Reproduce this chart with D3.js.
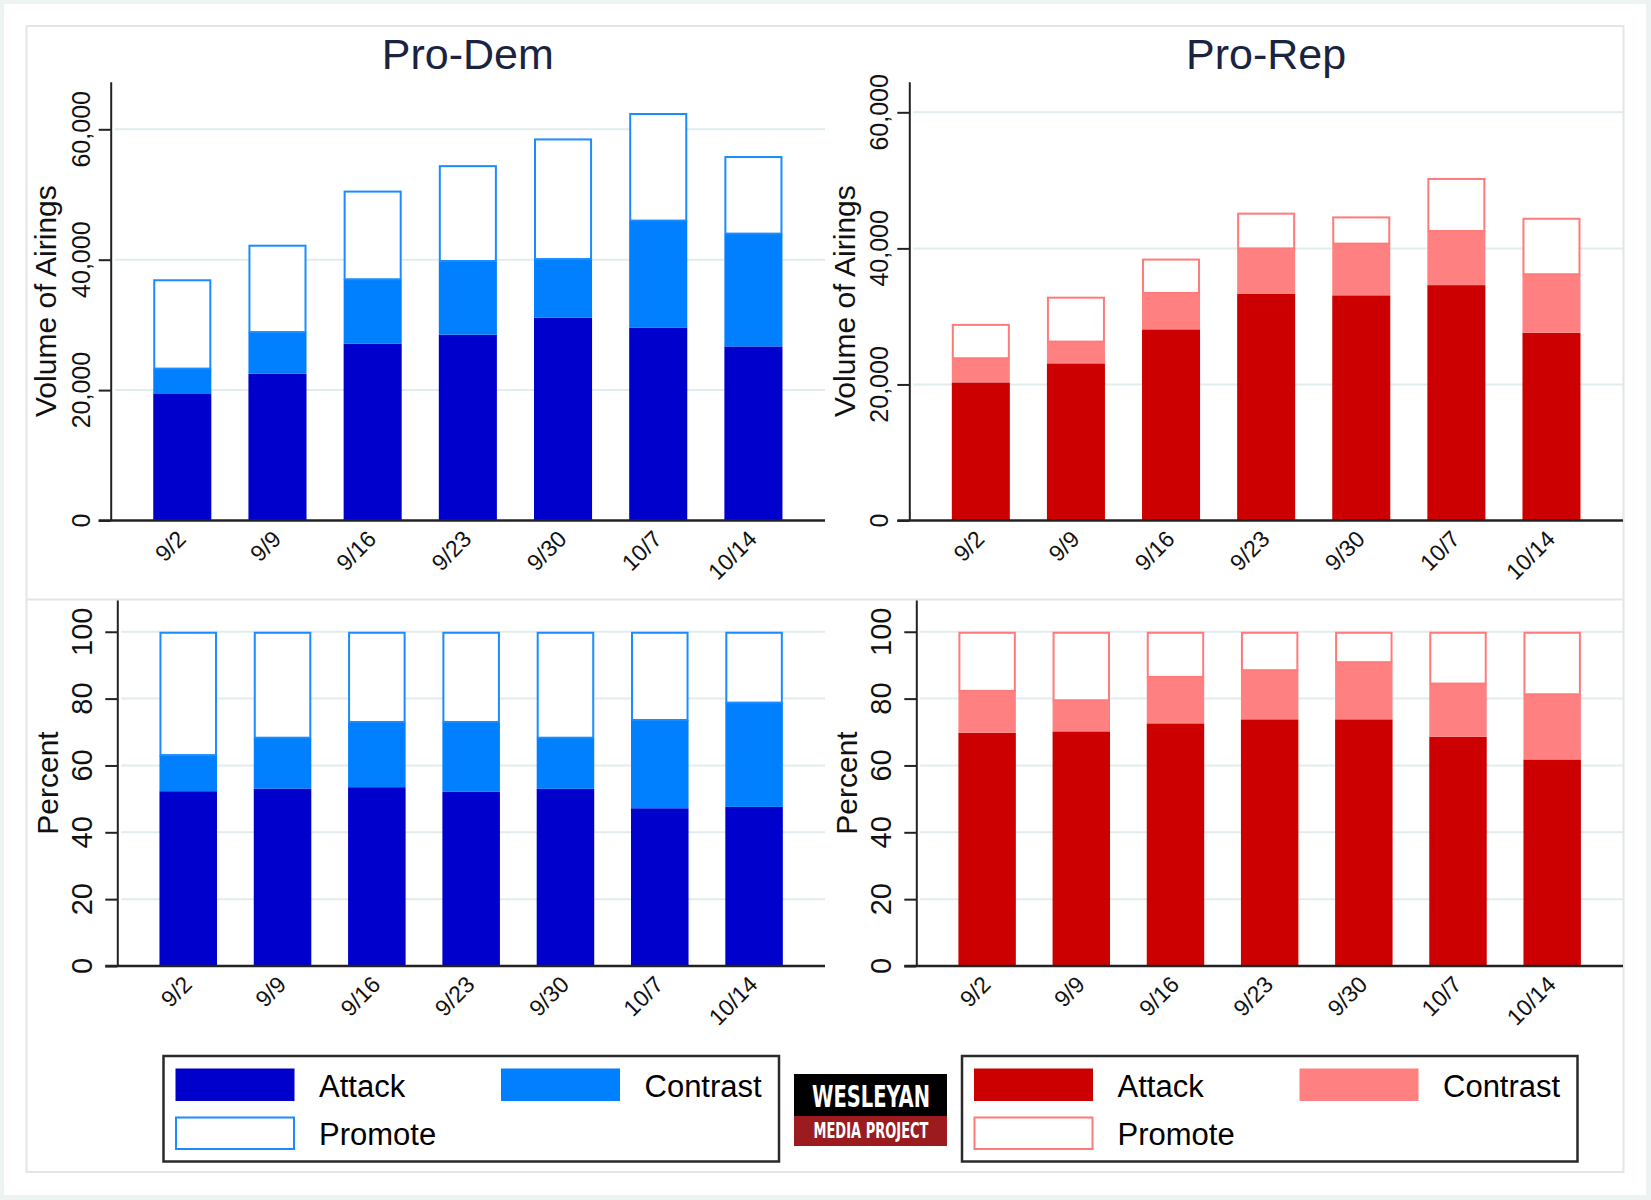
<!DOCTYPE html>
<html>
<head>
<meta charset="utf-8">
<script src="https://cdn.jsdelivr.net/npm/d3@7"></script>
<style>
  html, body { margin: 0; padding: 0; background: #edf2f3; }
  svg { display: block; font-family: "Liberation Sans", Arial, sans-serif; }
</style>
</head>
<body>
<svg id="chart" width="1651" height="1200"></svg>
<script>
// ---------------- data ----------------
const weeks = ["9/2", "9/9", "9/16", "9/23", "9/30", "10/7", "10/14"];
const seriesKeys = ["Attack", "Contrast", "Promote"];

// Volume of airings (segment sizes)
const demAttack   = [19400, 22500, 27100, 28500, 31100, 29600, 26700];
const demContrast = [3900, 6400, 9900, 11300, 9000, 16400, 17300];
const demPromote  = [13700, 13400, 13600, 14700, 18500, 16500, 11900];

const repAttack   = [20300, 23100, 28100, 33350, 33100, 34600, 27600];
const repContrast = [3550, 3200, 5350, 6650, 7600, 7950, 8600];
const repPromote  = [5050, 6600, 5050, 5250, 4000, 7800, 8300];

// Percent of airings (segment sizes)
const demAttackPct   = [52.3, 53.1, 53.5, 52.2, 53.0, 47.2, 47.6];
const demContrastPct = [10.8, 15.2, 19.5, 20.8, 15.3, 26.4, 31.2];
const demPromotePct  = [36.9, 31.7, 27.0, 27.0, 31.7, 26.4, 21.2];

const repAttackPct   = [69.8, 70.2, 72.6, 73.8, 73.8, 68.6, 61.8];
const repContrastPct = [12.5, 9.3, 13.9, 14.7, 17.1, 15.9, 19.5];
const repPromotePct  = [17.7, 20.5, 13.5, 11.5, 9.1, 15.5, 18.7];

const volumeTicks  = [0, 20000, 40000, 60000];
const percentTicks = [0, 20, 40, 60, 80, 100];

const panelTitles = ["Pro-Dem", "Pro-Rep"];

// ---------------- helpers ----------------
function rows(a, c, p) {
  return weeks.map((w, i) => ({ week: w, Attack: a[i], Contrast: c[i], Promote: p[i] }));
}

const blue = { Attack: "#0000cc", Contrast: "#0080ff", Promote: "#ffffff", edge: "#1a8cff" };
const red  = { Attack: "#cc0000", Contrast: "#ff8080", Promote: "#ffffff", edge: "#ff7a7a" };

const svg = d3.select("#chart");

// page frame
svg.append("rect").attr("x", 0).attr("y", 0).attr("width", 1651).attr("height", 1200).attr("fill", "#edf2f3");
svg.append("rect").attr("x", 4).attr("y", 4).attr("width", 1642).attr("height", 1191).attr("fill", "#ffffff");
svg.append("rect").attr("x", 26.5).attr("y", 26).attr("width", 1597).attr("height", 1146)
  .attr("fill", "#ffffff").attr("stroke", "#e3e6e7").attr("stroke-width", 2);
svg.append("line").attr("x1", 27).attr("x2", 1623).attr("y1", 599.5).attr("y2", 599.5)
  .attr("stroke", "#e3e6e7").attr("stroke-width", 2);

const panels = [
  { data: rows(demAttack, demContrast, demPromote), col: blue, ax: 110.7, x1: 825, top: 81.7, base: 520.5,
    max: 67300, ticks: volumeTicks, fmt: d3.format(","), tickFont: 25, tickOff: 21,
    label: "Volume of Airings", labOff: 54.5, title: panelTitles[0] },
  { data: rows(repAttack, repContrast, repPromote), col: red, ax: 909.3, x1: 1623, top: 81.7, base: 520.5,
    max: 64500, ticks: volumeTicks, fmt: d3.format(","), tickFont: 25, tickOff: 21,
    label: "Volume of Airings", labOff: 54.5, title: panelTitles[1] },
  { data: rows(demAttackPct, demContrastPct, demPromotePct), col: blue, ax: 117.3, x1: 825, top: 600, base: 966,
    max: 109.5, ticks: percentTicks, fmt: d3.format("d"), tickFont: 29, tickOff: 25,
    label: "Percent", labOff: 59, title: null },
  { data: rows(repAttackPct, repContrastPct, repPromotePct), col: red, ax: 916.3, x1: 1623, top: 600, base: 966,
    max: 109.5, ticks: percentTicks, fmt: d3.format("d"), tickFont: 29, tickOff: 25,
    label: "Percent", labOff: 59, title: null }
];

const stack = d3.stack().keys(seriesKeys);

panels.forEach(p => {
  const g = svg.append("g");
  const x = d3.scaleBand().domain(weeks).range([p.ax, p.x1]).paddingInner(0.39).paddingOuter(0.447);
  const y = d3.scaleLinear().domain([0, p.max]).range([p.base, p.top]);

  // gridlines
  g.selectAll(".grid").data(p.ticks.filter(t => t > 0)).join("line")
    .attr("x1", p.ax + 4).attr("x2", p.x1)
    .attr("y1", d => y(d)).attr("y2", d => y(d))
    .attr("stroke", "#e2ebed").attr("stroke-width", 2);

  // bars
  const layers = stack(p.data);
  layers.forEach(layer => {
    const key = layer.key;
    g.append("g").selectAll("rect").data(layer).join("rect")
      .attr("x", d => x(d.data.week) + (key === "Promote" ? 1 : 0))
      .attr("width", x.bandwidth() - (key === "Promote" ? 2 : 0))
      .attr("y", d => y(d[1]) + (key === "Promote" ? 1 : 0))
      .attr("height", d => Math.max(0, y(d[0]) - y(d[1]) - (key === "Promote" ? 1 : 0)))
      .attr("fill", p.col[key])
      .attr("stroke", key === "Promote" ? p.col.edge : "none")
      .attr("stroke-width", key === "Promote" ? 2 : 0);
  });

  // y axis
  const yAxis = d3.axisLeft(y).tickValues(p.ticks).tickSize(12).tickSizeOuter(0).tickFormat("");
  const ya = g.append("g").attr("transform", `translate(${p.ax},0)`).call(yAxis);
  ya.select(".domain").attr("stroke", "#222").attr("stroke-width", 2);
  ya.selectAll(".tick line").attr("stroke", "#222").attr("stroke-width", 2);

  // y tick labels (rotated)
  g.selectAll(".ylab").data(p.ticks).join("text")
    .attr("transform", d => `translate(${p.ax - p.tickOff},${y(d)}) rotate(-90)`)
    .attr("text-anchor", "middle")
    .attr("font-size", p.tickFont)
    .attr("fill", "#111")
    .text(d => p.fmt(d));

  // x axis line
  g.append("line").attr("x1", p.ax - 12).attr("x2", p.x1).attr("y1", p.base).attr("y2", p.base)
    .attr("stroke", "#222").attr("stroke-width", 2.5);

  // x tick labels
  const xAxis = d3.axisBottom(x).tickSize(0);
  const xa = g.append("g").attr("transform", `translate(0,${p.base})`).call(xAxis);
  xa.select(".domain").remove();
  xa.selectAll(".tick text")
    .attr("x", 0).attr("y", 0).attr("dy", 0)
    .attr("transform", "translate(5,20) rotate(-45)")
    .attr("text-anchor", "end")
    .attr("font-size", 23)
    .attr("font-family", "Liberation Sans, Arial, sans-serif")
    .attr("fill", "#111");

  // y axis title
  g.append("text")
    .attr("transform", `translate(${p.ax - p.labOff},${(p.top + p.base) / 2}) rotate(-90)`)
    .attr("text-anchor", "middle")
    .attr("font-size", 30)
    .attr("fill", "#111")
    .text(p.label);

  // panel title
  if (p.title) {
    g.append("text")
      .attr("x", (p.ax + p.x1) / 2).attr("y", 69)
      .attr("text-anchor", "middle")
      .attr("font-size", 43)
      .attr("fill", "#1a2340")
      .text(p.title);
  }
});

// ---------------- legends ----------------
function legend(x0, col) {
  const g = svg.append("g").attr("transform", `translate(${x0},1056)`);
  g.append("rect").attr("x", 0).attr("y", 0).attr("width", 615.5).attr("height", 105.5)
    .attr("fill", "#fff").attr("stroke", "#2a2a2a").attr("stroke-width", 2.5);
  const items = [
    { key: "Attack", sx: 12.5, sy: 13, tx: 155.5 },
    { key: "Contrast", sx: 338, sy: 13, tx: 481 },
    { key: "Promote", sx: 12.5, sy: 61.5, tx: 155.5 }
  ];
  items.forEach(it => {
    g.append("rect").attr("x", it.sx).attr("y", it.sy).attr("width", 118).attr("height", 31.5)
      .attr("fill", col[it.key])
      .attr("stroke", it.key === "Promote" ? col.edge : col[it.key])
      .attr("stroke-width", it.key === "Promote" ? 2 : 1);
    g.append("text").attr("x", it.tx).attr("y", it.sy + 27.5)
      .attr("font-size", 31).attr("fill", "#000").text(it.key);
  });
}
legend(163.5, blue);
legend(962, red);

// ---------------- logo ----------------
const logo = svg.append("g");
logo.append("rect").attr("x", 794).attr("y", 1074).attr("width", 153).attr("height", 42).attr("fill", "#000");
logo.append("rect").attr("x", 794).attr("y", 1116).attr("width", 153).attr("height", 30).attr("fill", "#9b1b1f");
logo.append("text").attr("x", 812).attr("y", 1106.5)
  .attr("font-family", "'Liberation Sans Narrow', 'DejaVu Sans Condensed', 'Liberation Sans', sans-serif")
  .attr("font-weight", "bold").attr("font-size", 31).attr("fill", "#fff")
  .attr("textLength", 118).attr("lengthAdjust", "spacingAndGlyphs").text("WESLEYAN");
logo.append("text").attr("x", 813.5).attr("y", 1138.3)
  .attr("font-family", "'Liberation Sans Narrow', 'DejaVu Sans Condensed', 'Liberation Sans', sans-serif")
  .attr("font-weight", "bold").attr("font-size", 21).attr("fill", "#fff")
  .attr("textLength", 115).attr("lengthAdjust", "spacingAndGlyphs").text("MEDIA PROJECT");
</script>
</body>
</html>
